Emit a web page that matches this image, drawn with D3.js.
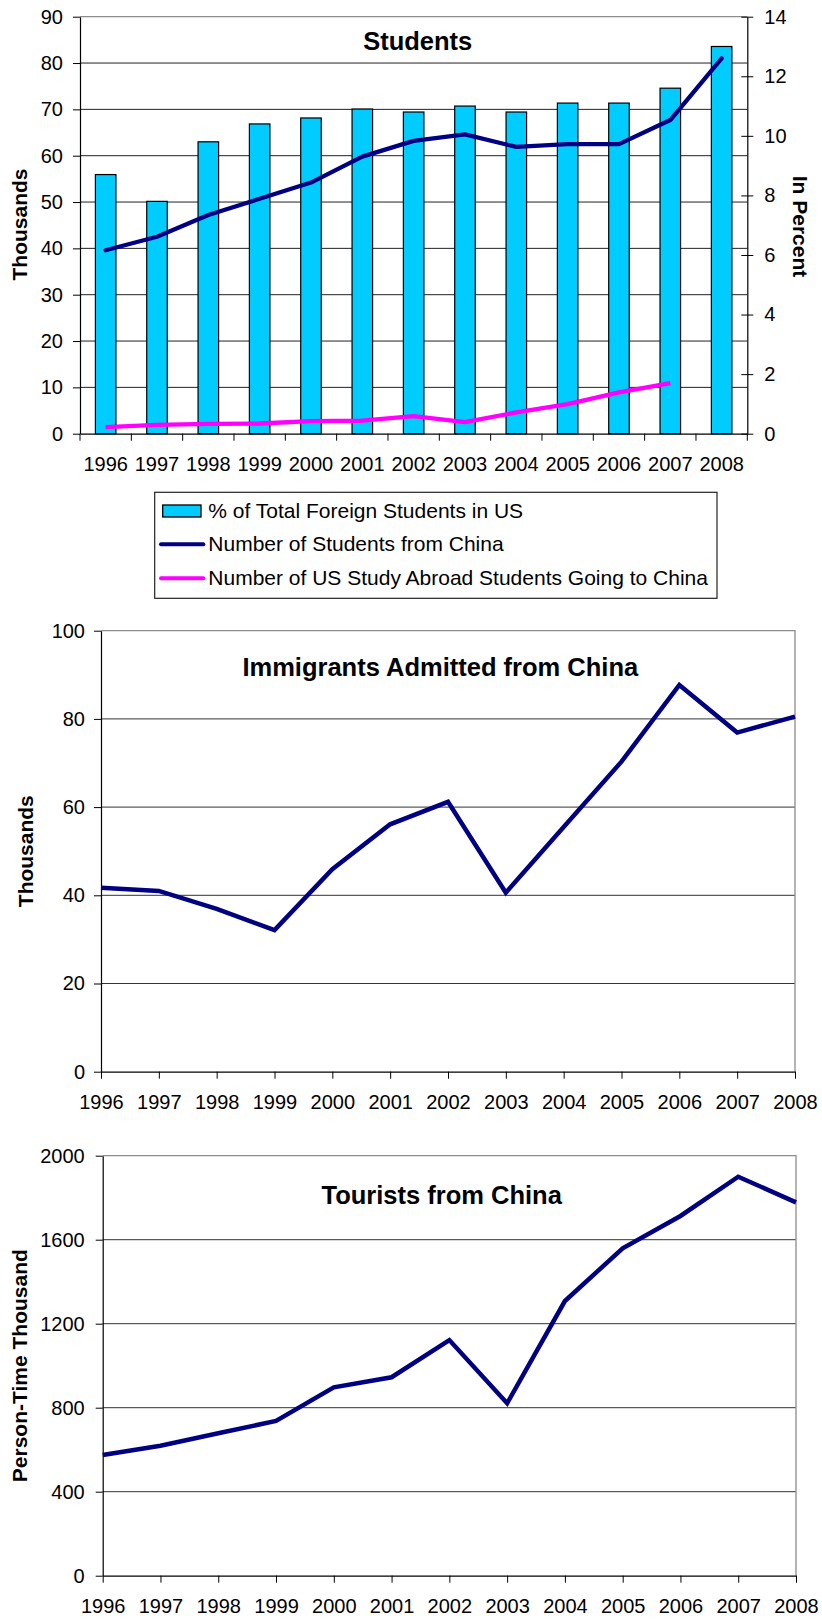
<!DOCTYPE html>
<html>
<head>
<meta charset="utf-8">
<script src="https://cdn.jsdelivr.net/npm/d3@7"></script>
<style>
  html, body { margin: 0; padding: 0; background: #fff; }
  svg { display: block; font-family: "Liberation Sans", Arial, sans-serif; }
  .tick text { font-size: 20px; fill: #000; }
  .domain { stroke: #000; }
  .tick line { stroke: #000; }
</style>
</head>
<body>
<svg id="chart" width="822" height="1621"></svg>
<script>
// ---- Data ----
const years = ["1996","1997","1998","1999","2000","2001","2002","2003","2004","2005","2006","2007","2008"];

// Students panel
const pctForeignStudents = [8.7, 7.8, 9.8, 10.4, 10.6, 10.9, 10.8, 11.0, 10.8, 11.1, 11.1, 11.6, 13.0];
const studentsFromChina  = [39.6, 42.5, 47.2, 50.7, 54.2, 59.8, 63.2, 64.6, 61.9, 62.5, 62.5, 67.7, 81.0];
const usStudyAbroadChina = [1.4, 1.9, 2.1, 2.2, 2.7, 2.8, 3.8, 2.5, 4.6, 6.4, 8.9, 10.9]; // through 2007
const studentTicks = [0, 10, 20, 30, 40, 50, 60, 70, 80, 90];
const percentTicks = [0, 2, 4, 6, 8, 10, 12, 14];

// Immigrants panel
const immigrants = [41.7, 41.0, 36.9, 32.1, 45.9, 56.1, 61.2, 40.6, 55.5, 70.3, 87.7, 76.9, 80.5];
const immigrantTicks = [0, 20, 40, 60, 80, 100];

// Tourists panel
const tourists = [575, 619, 678, 737, 897, 945, 1122, 821, 1308, 1559, 1713, 1900, 1778];
const touristTicks = [0, 400, 800, 1200, 1600, 2000];

const legendItems = [
  { label: "% of Total Foreign Students in US", type: "bar" },
  { label: "Number of Students from China", type: "line", color: "#000080" },
  { label: "Number of US Study Abroad Students Going to China", type: "line", color: "#FF00FF" }
];

// ---- Styles ----
const NAVY = "#000080", MAGENTA = "#FF00FF", CYAN = "#00CCFF";
const GRID = "#222", BORDER = "#8c8c8c";

const svg = d3.select("#chart");
svg.append("rect").attr("width", 822).attr("height", 1621).attr("fill", "#fff");

function yLabel(text, x, y, rot) {
  svg.append("text")
    .attr("transform", `translate(${x},${y}) rotate(${rot})`)
    .attr("text-anchor", "middle")
    .attr("dominant-baseline", "central")
    .attr("font-size", 21).attr("font-weight", "bold")
    .text(text);
}
function title(text, x, y) {
  svg.append("text").attr("x", x).attr("y", y)
    .attr("text-anchor", "middle")
    .attr("font-size", 25.5).attr("font-weight", "bold")
    .text(text);
}

// ================= Panel 1: Students =================
{
  const L = 80, R = 747.3, T = 16.7, B = 433.7;
  const x = d3.scaleBand().domain(years).range([L, R]).paddingInner(0).paddingOuter(0);
  const yL = d3.scaleLinear().domain([0, 90]).range([B, T]);
  const yR = d3.scaleLinear().domain([0, 14]).range([B, T]);
  const g = svg.append("g");

  // gridlines
  g.selectAll("line.grid").data(studentTicks.filter(d => d > 0 && d < 90)).join("line")
    .attr("x1", L).attr("x2", R).attr("y1", d => yL(d)).attr("y2", d => yL(d))
    .attr("stroke", GRID).attr("stroke-width", 1);
  g.append("line").attr("x1", L).attr("x2", R).attr("y1", yL(90)).attr("y2", yL(90))
    .attr("stroke", BORDER).attr("stroke-width", 1.2);

  // bars (right axis, percent)
  const bw = x.bandwidth() * 0.4;
  g.selectAll("rect.bar").data(pctForeignStudents).join("rect")
    .attr("x", (d, i) => x(years[i]) + (x.bandwidth() - bw) / 2)
    .attr("width", bw)
    .attr("y", d => yR(d))
    .attr("height", d => B - yR(d))
    .attr("fill", CYAN).attr("stroke", "#000").attr("stroke-width", 1.2);

  const cx = i => x(years[i]) + x.bandwidth() / 2;
  const line = d3.line().x((d, i) => cx(i)).y(d => yL(d));
  g.append("path").datum(usStudyAbroadChina).attr("d", line)
    .attr("fill", "none").attr("stroke", MAGENTA).attr("stroke-width", 4.3).attr("stroke-linejoin", "round");
  g.append("path").datum(studentsFromChina).attr("d", line)
    .attr("fill", "none").attr("stroke", NAVY).attr("stroke-width", 4.3).attr("stroke-linejoin", "round")
    .attr("stroke-linecap", "round");

  // left axis
  g.append("g").attr("transform", `translate(${L},0)`)
    .call(d3.axisLeft(yL).tickValues(studentTicks).tickSize(7).tickSizeOuter(0).tickPadding(10))
    .call(a => a.select(".domain").attr("stroke-width", 1.2));
  // right axis, ticks crossing the line
  g.append("g").attr("transform", `translate(${R},0)`)
    .call(d3.axisRight(yR).tickValues(percentTicks).tickSize(6).tickSizeOuter(0).tickPadding(11))
    .call(a => a.selectAll(".tick line").attr("x1", -6).attr("x2", 6))
    .call(a => a.select(".domain").attr("stroke-width", 1.2));
  // bottom axis: labels at band centres, ticks at band edges
  const xb = g.append("g").attr("transform", `translate(0,${B})`)
    .call(d3.axisBottom(x).tickSize(0).tickPadding(23))
    .call(a => a.select(".domain").attr("stroke-width", 1.2));
  xb.selectAll("line.edge").data(years.concat(["end"])).join("line")
    .attr("x1", (d, i) => i < years.length ? x(d) : R)
    .attr("x2", (d, i) => i < years.length ? x(d) : R)
    .attr("y1", 0).attr("y2", 7).attr("stroke", "#000");

  title("Students", 417.7, 50);
  yLabel("Thousands", 19, 224.5, -90);
  yLabel("In Percent", 800, 226.5, 90);

  // legend
  const lg = svg.append("g");
  lg.append("rect").attr("x", 154.7).attr("y", 492.3).attr("width", 562.3).attr("height", 106)
    .attr("fill", "#fff").attr("stroke", "#222").attr("stroke-width", 1.2);
  const rowY = [511, 544.3, 578.3];
  legendItems.forEach((it, i) => {
    if (it.type === "bar") {
      lg.append("rect").attr("x", 162.7).attr("y", rowY[i] - 6).attr("width", 38.3).attr("height", 12)
        .attr("fill", CYAN).attr("stroke", "#000").attr("stroke-width", 1.3);
    } else {
      lg.append("line").attr("x1", 161).attr("x2", 203.3).attr("y1", rowY[i]).attr("y2", rowY[i])
        .attr("stroke", it.color).attr("stroke-width", 4).attr("stroke-linecap", "round");
    }
    lg.append("text").attr("x", 208.3).attr("y", rowY[i] + 6.5)
      .attr("font-size", 21)
      .text(it.label);
  });
}

// ================= Simple line panels =================
function linePanel(opts) {
  const { L, R, T, B, values, ticks, max, tickPad, titleText, titleX, titleY, label, labelX } = opts;
  const x = d3.scalePoint().domain(years).range([L, R]).padding(0);
  const y = d3.scaleLinear().domain([0, max]).range([B, T]);
  const g = svg.append("g");

  g.selectAll("line.grid").data(ticks.filter(d => d > 0 && d < max)).join("line")
    .attr("x1", L).attr("x2", R).attr("y1", d => y(d)).attr("y2", d => y(d))
    .attr("stroke", "#333").attr("stroke-width", 1);
  // plot border (top and right)
  g.append("path").attr("d", `M${L},${y(max)}H${R}V${B}`)
    .attr("fill", "none").attr("stroke", BORDER).attr("stroke-width", 1.3);

  g.append("g").attr("transform", `translate(${L},0)`)
    .call(d3.axisLeft(y).tickValues(ticks).tickFormat(d3.format("d"))
      .tickSize(7).tickSizeOuter(0).tickPadding(tickPad))
    .call(a => a.select(".domain").attr("stroke-width", 1.2));
  g.append("g").attr("transform", `translate(0,${B})`)
    .call(d3.axisBottom(x).tickSize(7).tickSizeOuter(0).tickPadding(16))
    .call(a => a.select(".domain").attr("stroke-width", 1.2));

  g.append("path").datum(values)
    .attr("d", d3.line().x((d, i) => x(years[i])).y(d => y(d)))
    .attr("fill", "none").attr("stroke", NAVY).attr("stroke-width", 4.5).attr("stroke-linejoin", "miter");

  title(titleText, titleX, titleY);
  yLabel(label, labelX, (T + B) / 2, -90);
}

linePanel({
  L: 101, R: 795, T: 630.7, B: 1071.7, values: immigrants, ticks: immigrantTicks, max: 100,
  tickPad: 9, titleText: "Immigrants Admitted from China", titleX: 440.3, titleY: 675.7,
  label: "Thousands", labelX: 25.7
});

linePanel({
  L: 102.7, R: 796, T: 1155.7, B: 1575.7, values: tourists, ticks: touristTicks, max: 2000,
  tickPad: 11, titleText: "Tourists from China", titleX: 441.7, titleY: 1204,
  label: "Person-Time Thousand", labelX: 19
});
</script>
</body>
</html>
